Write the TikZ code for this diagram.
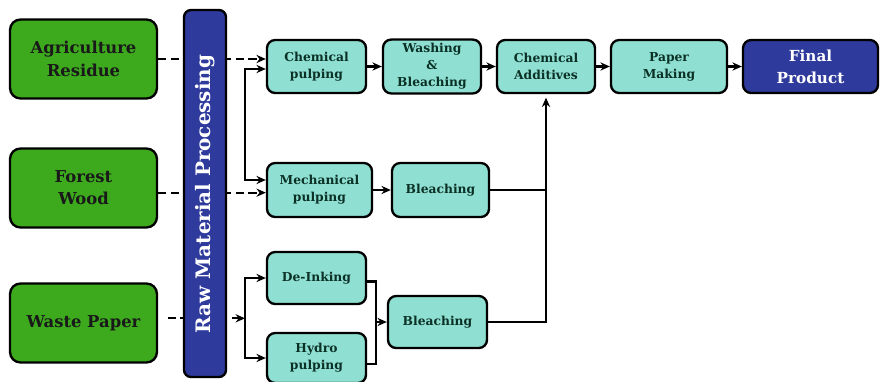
\documentclass[tikz,border=0pt]{standalone}
\usepackage{fontspec}
\setmainfont{DejaVu Serif}
\usetikzlibrary{arrows.meta, positioning}
\definecolor{srcgreen}{HTML}{3DAA1E}
\definecolor{procteal}{HTML}{8FE0D2}
\definecolor{darkblue}{HTML}{2E3A9C}
\definecolor{tealtext}{HTML}{0B3026}
\begin{document}
\begin{tikzpicture}[x=0.03cm, y=-0.03cm, >={Stealth[length=8pt,width=7pt]},
  line width=2pt,
  source/.style={draw, rounded corners=9pt, fill=srcgreen, minimum width=4.41cm, minimum height=2.37cm,
    align=center, font=\bfseries\fontsize{14}{19}\selectfont, text=black!90},
  proc/.style={draw, rounded corners=7pt, fill=procteal, minimum width=2.97cm, minimum height=1.59cm,
    align=center, font=\bfseries\fontsize{10.5}{14.5}\selectfont, text=tealtext},
  feed/.style={dash pattern=on 7pt off 4pt}]
\useasboundingbox (0,0) rectangle (882,381);

% --- sources ---
\node[source] (agri) at (83.5, 59) {Agriculture\\Residue};
\node[source] (forest) at (83.5, 188) {Forest\\Wood};
\node[source] (waste) at (83.5, 323) {Waste Paper};

% --- pulping ---
\node[proc] (cp) at (316.5, 66.5) {Chemical\\pulping};
\node[proc] (mp) at (319.5, 190) [minimum width=3.15cm, minimum height=1.62cm] {Mechanical\\pulping};
\node[proc] (di) at (316.5, 278) [minimum height=1.56cm] {De-Inking};
\node[proc] (hp) at (316.5, 358) [minimum height=1.5cm] {Hydro\\pulping};

% --- bleaching and on ---
\node[proc] (wb) at (432, 66.5) [minimum width=2.94cm] {Washing\\\&\\Bleaching};
\node[proc] (bm) at (440.5, 190) [minimum width=2.91cm, minimum height=1.62cm] {Bleaching};
\node[proc] (bl) at (437.5, 322) [minimum height=1.56cm] {Bleaching};
\node[proc] (ca) at (546, 66.5) [minimum width=2.94cm] {Chemical\\Additives};
\node[proc] (pm) at (669, 66.5) [minimum width=3.48cm] {Paper\\Making};
\node[proc] (fp) at (810.5, 66.5) [minimum width=4.05cm, fill=darkblue, text=white,
  font=\bfseries\fontsize{13}{19}\selectfont] {Final\\Product};

% branch points
\coordinate (sA) at (245, 69);
\coordinate (sB) at (245, 180);
\coordinate (sC) at (245, 319);
\coordinate (jn) at (376, 322);

% dashed feeds (bar drawn on top)
\draw[feed, ->] (agri.east) -- (agri.east -| cp.west);
\draw[feed, ->] ([yshift=-4]forest.east) -- ([yshift=-4]forest.east -| mp.west);
\draw[feed, ->] ([xshift=8pt, yshift=4]waste.east) -- ([yshift=4]waste.east -| sC);

% --- raw material bar ---
\node[draw, rounded corners=6pt, fill=darkblue, minimum width=1.26cm, minimum height=11.01cm] (raw) at (205, 193.5) {};
\node[rotate=90, text=white, font=\bfseries\fontsize{17}{20}\selectfont] (rawlbl) at (205, 194) {Raw Material Processing};

% branches
\draw[<->] (cp.west |- sA) -- (sA) -- (sB) -- (mp.west |- sB);
\draw[<->] (di.west) -- (di.west -| sC) -- (hp.west -| sC) -- (hp.west);

% main line
\draw[->] (cp) -- (wb);
\draw[->] (wb) -- (ca);
\draw[->] (ca) -- (pm);
\draw[->] (pm) -- (fp);
\draw[->] (mp) -- (bm);

% joins
\draw ([yshift=-3]di.east) -| (jn) |- ([yshift=-5]hp.east);
\draw[->] (jn) -- (bl.west);
\draw (bm.east) -- (bm.east -| ca.south);
\draw[->] (bl.east) -| ([yshift=-3]ca.south);

\end{tikzpicture}
\end{document}
